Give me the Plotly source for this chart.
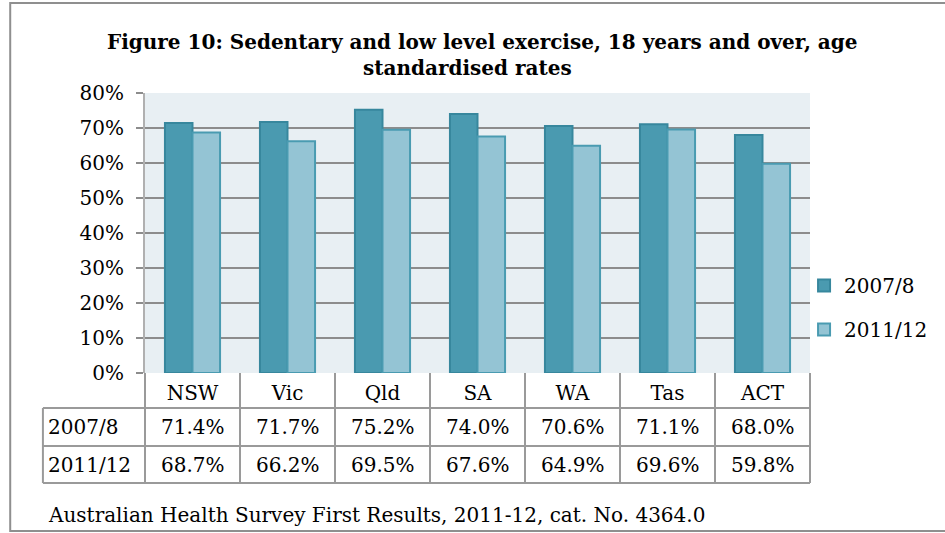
import plotly.graph_objects as go

# Survey data: share of adults with sedentary or low level exercise
states = ["NSW", "Vic", "Qld", "SA", "WA", "Tas", "ACT"]
rate_2007 = [0.714, 0.717, 0.752, 0.740, 0.706, 0.711, 0.680]
rate_2011 = [0.687, 0.662, 0.695, 0.676, 0.649, 0.696, 0.598]
series_names = ["2007/8", "2011/12"]
y_ticks = [0, 0.1, 0.2, 0.3, 0.4, 0.5, 0.6, 0.7, 0.8]

FONT = "DejaVu Serif"
W, H = 945, 533
ML, MR, MT, MB = 145, 129, 93, 160
PW, PH = W - ML - MR, H - MT - MB
GRID = "#8c8c8c"
TABLE = "#9a9a9a"
X_RANGE = [-0.5, len(states) - 0.5]


def px_x(px):
    return (px - ML) / PW


def px_y(py):
    return (H - MB - py) / PH


def cat_to_paper(v):
    return (v - X_RANGE[0]) / (X_RANGE[1] - X_RANGE[0])


fig = go.Figure()
fig.add_trace(go.Bar(
    x=states, y=rate_2007, name=series_names[0], legendgroup="a",
    marker=dict(color="#4a9ab0", line=dict(color="#37879d", width=2)),
))
fig.add_trace(go.Bar(
    x=states, y=rate_2011, name=series_names[1], legendgroup="b",
    marker=dict(color="#94c4d4", line=dict(color="#4a9bb1", width=2)),
))

shapes = []
annotations = []

# data table under the chart
row_tops = [px_y(408), px_y(446)]
row_bottom = px_y(483)
row_centers = [px_y(427), px_y(465)]
left_edge = px_x(42)

for yy in [px_y(408), px_y(446), row_bottom]:
    shapes.append(dict(type="line", xref="paper", yref="paper",
                       x0=left_edge, x1=1, y0=yy, y1=yy,
                       line=dict(color=TABLE, width=2)))
for i in range(len(states) + 1):
    xb = cat_to_paper(i - 0.5)
    shapes.append(dict(type="line", xref="paper", yref="paper",
                       x0=xb, x1=xb, y0=0, y1=row_bottom,
                       line=dict(color=TABLE, width=2)))
shapes.append(dict(type="line", xref="paper", yref="paper",
                   x0=left_edge, x1=left_edge, y0=row_tops[0], y1=row_bottom,
                   line=dict(color=TABLE, width=2)))

for name, vals, yc in zip(series_names, [rate_2007, rate_2011], row_centers):
    annotations.append(dict(xref="paper", yref="paper", x=px_x(45), y=yc,
                            xanchor="left", yanchor="middle", showarrow=False,
                            text=name, font=dict(family=FONT, size=20, color="black")))
    for s, v in zip(states, vals):
        annotations.append(dict(xref="x", yref="paper", x=s, y=yc,
                                xanchor="center", yanchor="middle", showarrow=False,
                                text=f"{v * 100:.1f}%",
                                font=dict(family=FONT, size=20, color="black")))

# outer frame
shapes.append(dict(type="rect", xref="paper", yref="paper",
                   x0=px_x(9), x1=px_x(960), y0=px_y(3), y1=px_y(531),
                   line=dict(color="#8f8f8f", width=2)))

# title lines and source note
annotations.append(dict(xref="paper", yref="paper", x=px_x(486), y=px_y(42),
                        xanchor="center", yanchor="middle", showarrow=False,
                        text="<b>Figure 10: Sedentary and low level exercise, 18 years and over, age</b>",
                        font=dict(family=FONT, size=20, color="black")))
annotations.append(dict(xref="paper", yref="paper", x=px_x(470), y=px_y(68),
                        xanchor="center", yanchor="middle", showarrow=False,
                        text="<b>standardised rates</b>",
                        font=dict(family=FONT, size=20, color="black")))
annotations.append(dict(xref="paper", yref="paper", x=px_x(45), y=px_y(515),
                        xanchor="left", yanchor="middle", showarrow=False,
                        text="Australian Health Survey First Results, 2011-12, cat. No. 4364.0",
                        font=dict(family=FONT, size=20, color="black")))

fig.update_layout(
    width=W, height=H,
    margin=dict(l=ML, r=MR, t=MT, b=MB),
    paper_bgcolor="white",
    plot_bgcolor="#e8eff3",
    barmode="group",
    bargap=0.42,
    bargroupgap=0,
    font=dict(family=FONT, size=20, color="black"),
    showlegend=True,
    legend=dict(x=px_x(810), y=px_y(266), xanchor="left", yanchor="top",
                font=dict(family=FONT, size=20, color="black"),
                bgcolor="rgba(0,0,0,0)", itemwidth=30, tracegroupgap=15),
    xaxis=dict(range=X_RANGE, showgrid=False, ticks="", showline=False,
               zeroline=False, tickfont=dict(family=FONT, size=20),
               ticklabelstandoff=6),
    yaxis=dict(range=[0, 0.8], tickvals=y_ticks, tickformat=".0%",
               showgrid=True, gridcolor=GRID, gridwidth=2,
               ticks="outside", ticklen=7, tickcolor=GRID, tickwidth=2,
               showline=True, linecolor="#b0b0b0", linewidth=2,
               zeroline=False, tickfont=dict(family=FONT, size=20),
               ticklabelstandoff=8),
    shapes=shapes,
    annotations=annotations,
)

fig.write_html("out.html")
